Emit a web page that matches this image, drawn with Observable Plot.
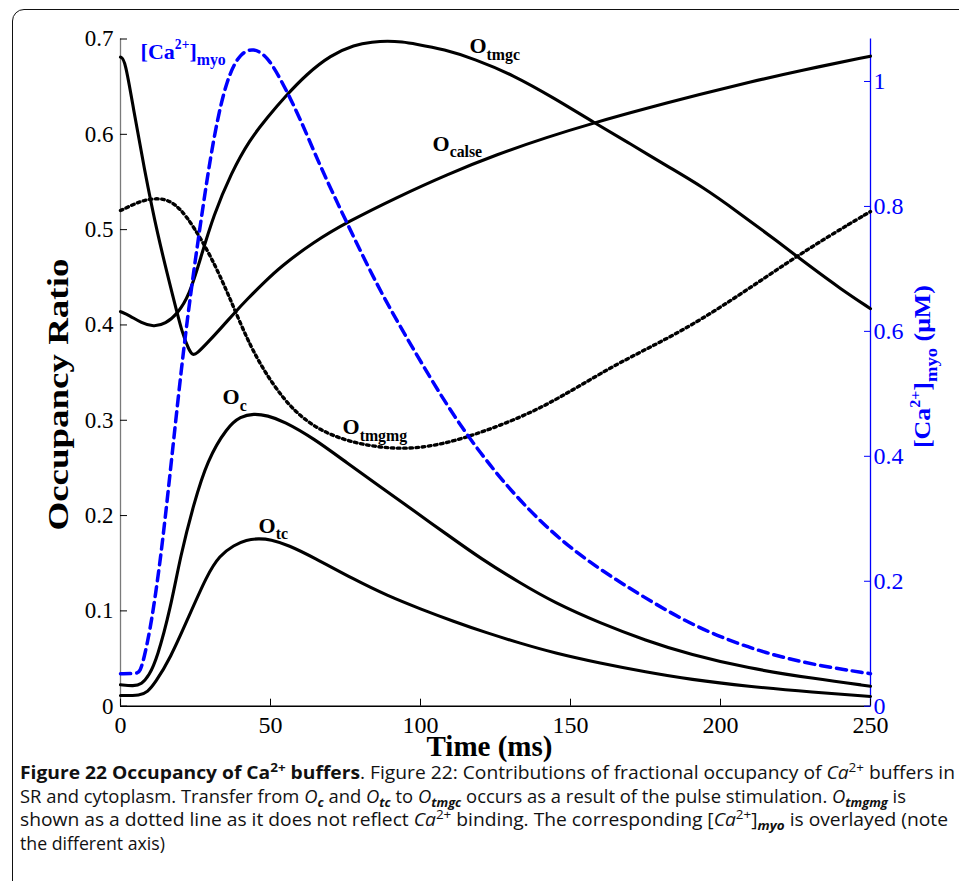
<!DOCTYPE html>
<html><head><meta charset="utf-8">
<script src="https://cdn.jsdelivr.net/npm/d3@7"></script>
<script src="https://cdn.jsdelivr.net/npm/@observablehq/plot@0.6"></script>
<style>
body{margin:0;background:#fff;}
#wrap{position:relative;width:959px;height:881px;overflow:hidden;background:#fff;}
#frame{position:absolute;left:12px;top:9px;width:1000px;height:1000px;border:1.2px solid #111;border-radius:12px;box-sizing:border-box;}
#chart{position:absolute;left:0;top:0;}
#caption{position:absolute;left:0;top:760px;}
</style></head>
<body><div id="wrap"><div id="frame"></div><div id="chart"></div><svg id="caption" width="959" height="121"></svg></div>
<script>
// ---- data ----
const xTicks = [0, 50, 100, 150, 200, 250];
const yTicks = [0, 0.1, 0.2, 0.3, 0.4, 0.5, 0.6, 0.7];
const yTickLabels = ["0", "0.1", "0.2", "0.3", "0.4", "0.5", "0.6", "0.7"];
const caTicks = [0, 0.2, 0.4, 0.6, 0.8, 1];
const caTickLabels = ["0", "0.2", "0.4", "0.6", "0.8", "1"];
const caAxisMax = 1.068;   // right axis value at the top of the frame
const occAxisMax = 0.7;

const tmgcT = [0, 3, 7, 11, 15, 19, 22.8, 26.7, 31, 37, 43, 49, 55, 62, 70, 78, 84, 89, 94, 98, 108, 118, 131, 144.5, 158, 170, 182, 194, 206, 218, 230, 240, 250];
const tmgcV = [0.414, 0.410, 0.402, 0.398, 0.401, 0.412, 0.430, 0.470, 0.515, 0.560, 0.594, 0.618, 0.640, 0.663, 0.683, 0.694, 0.697, 0.698, 0.697, 0.695, 0.689, 0.679, 0.662, 0.638, 0.612, 0.590, 0.567, 0.545, 0.518, 0.490, 0.461, 0.438, 0.417];

const calseT = [0, 1.5, 4.4, 7.8, 12.2, 17.8, 20.6, 22.8, 24, 25.5, 28.9, 33.3, 37.8, 42.2, 48, 53.3, 64.4, 75.6, 92.2, 108.9, 125.6, 142.2, 157.8, 175, 193.3, 210, 226.7, 250];
const calseV = [0.681, 0.679, 0.625, 0.566, 0.496, 0.426, 0.391, 0.374, 0.368, 0.370, 0.381, 0.396, 0.412, 0.427, 0.445, 0.461, 0.487, 0.508, 0.534, 0.558, 0.579, 0.597, 0.612, 0.627, 0.642, 0.655, 0.667, 0.682];

const tmgmgT = [0, 4, 7.8, 12.2, 16, 20, 24.4, 30, 36, 43.3, 51, 58, 66, 75.6, 86.7, 97.8, 108.9, 120, 131, 142, 153, 166, 180, 193.3, 208, 223, 236, 250];
const tmgmgV = [0.520, 0.526, 0.531, 0.533, 0.531, 0.522, 0.503, 0.473, 0.432, 0.376, 0.336, 0.309, 0.290, 0.278, 0.271, 0.270, 0.276, 0.287, 0.300, 0.316, 0.336, 0.360, 0.382, 0.405, 0.435, 0.467, 0.493, 0.519];

const ocT = [0, 4.4, 7, 9.5, 12.2, 16.7, 20, 24.4, 28.9, 35.6, 40, 44.4, 49, 54.4, 64.4, 75.6, 86.7, 97.8, 108.9, 120, 133.3, 144.4, 160, 175, 190, 208.9, 231, 250];
const ocV = [0.0225, 0.021, 0.023, 0.032, 0.050, 0.103, 0.158, 0.212, 0.258, 0.293, 0.304, 0.307, 0.305, 0.299, 0.281, 0.255, 0.230, 0.205, 0.180, 0.155, 0.129, 0.109, 0.087, 0.069, 0.054, 0.040, 0.029, 0.021];

const otcT = [0, 6.7, 9, 11.5, 16.7, 22.2, 28.9, 33, 37.8, 42, 46, 50, 56, 64.4, 77.8, 88.9, 100, 111, 122, 133.3, 144.4, 160, 175, 190, 209, 231, 250];
const otcV = [0.0112, 0.0112, 0.015, 0.024, 0.051, 0.090, 0.138, 0.158, 0.169, 0.1745, 0.176, 0.175, 0.169, 0.156, 0.133, 0.116, 0.102, 0.089, 0.077, 0.066, 0.056, 0.045, 0.036, 0.028, 0.0207, 0.0147, 0.0102];

const caT = [0, 5.6, 6.5, 7.8, 10, 11.7, 13.3, 15.6, 18.9, 22.2, 26.7, 31.1, 35.6, 40, 44.4, 48.9, 53.3, 60, 66, 75.6, 86.7, 97.8, 108.9, 120, 131, 142, 153, 164, 174, 186.7, 200, 215, 231, 250];
const caV = [0.052, 0.052, 0.056, 0.075, 0.126, 0.180, 0.235, 0.330, 0.480, 0.620, 0.775, 0.915, 1.008, 1.046, 1.054, 1.040, 1.005, 0.940, 0.870, 0.772, 0.662, 0.570, 0.480, 0.404, 0.340, 0.286, 0.242, 0.206, 0.176, 0.140, 0.110, 0.085, 0.066, 0.052];

const curveLabels = [
  {t: 116.3, v: 0.6928, text: "O_{tmgc}"},
  {t: 104, v: 0.590, text: "O_{calse}"},
  {t: 74, v: 0.293, text: "O_{tmgmg}"},
  {t: 34, v: 0.3245, text: "O_{c}"},
  {t: 46, v: 0.1896, text: "O_{tc}"}
];
const caLabel = [{t: 6.7, v: 0.6868, text: "[Ca^{2+}]_{myo}"}];

const xTitle = "Time (ms)";
const yTitle = "Occupancy Ratio";
const y2Title = "[Ca^{2+}]_{myo} (μM)";

const captionLines = [
  [["Figure 22 Occupancy of Ca", "b"], ["2+", "b sup"], [" buffers", "b"], [". Figure 22: Contributions of fractional occupancy of ", ""], ["Ca", "i"], ["2+", "sup"], [" buffers in", ""]],
  [["SR and cytoplasm. Transfer from ", ""], ["O", "i"], ["c", "i sub"], [" and ", ""], ["O", "i"], ["tc", "i sub"], [" to ", ""], ["O", "i"], ["tmgc", "i sub"], [" occurs as a result of the pulse stimulation. ", ""], ["O", "i"], ["tmgmg", "i sub"], [" is", ""]],
  [["shown as a dotted line as it does not reflect ", ""], ["Ca", "i"], ["2+", "sup"], [" binding. The corresponding [", ""], ["Ca", "i"], ["2+", "sup"], ["]", ""], ["myo", "i sub"], [" is overlayed (note", ""]],
  [["the different axis)", ""]]
];

// ---- build ----
const K = occAxisMax / caAxisMax;
const rows = (t, v) => t.map((d, i) => ({t: d, v: v[i]}));
const serif = "'Liberation Serif', 'Times New Roman', Times, serif";
const lineOpts = {x: "t", y: "v", stroke: "#000", strokeWidth: 3.1, curve: "basis"};

const chart = Plot.plot({
  width: 959, height: 780,
  marginLeft: 120, marginRight: 89, marginTop: 38.5, marginBottom: 74.3,
  x: {domain: [0, 250]},
  y: {domain: [0, occAxisMax]},
  style: {fontFamily: serif, background: "transparent", color: "#000", overflow: "visible"},
  marks: [
    Plot.ruleX([0], {stroke: "#7a7a7a", strokeWidth: 1.3}),
    Plot.ruleX([250], {stroke: "#0000ff", strokeWidth: 1.3}),
    Plot.ruleY([0], {stroke: "#000", strokeWidth: 1.5}),
    Plot.axisX(xTicks, {tickSize: -7, tickPadding: 17, fontSize: 24, tickFormat: d => String(d), label: null}),
    Plot.axisY(yTicks, {anchor: "left", tickSize: -7, tickPadding: 14, fontSize: 23,
      tickFormat: d => yTickLabels[yTicks.findIndex(v => Math.abs(v - d) < 1e-9)], label: null}),
    Plot.axisY(caTicks.map(c => c * K), {anchor: "right", tickSize: -7, tickPadding: 10, fontSize: 24, color: "#0000ff",
      tickFormat: d => caTickLabels[caTicks.findIndex(c => Math.abs(c * K - d) < 1e-9)], label: null}),
    Plot.line(rows(tmgmgT, tmgmgV), {...lineOpts, strokeWidth: 3.4, strokeDasharray: "2.6,3.6"}),
    Plot.line(rows(tmgcT, tmgcV), lineOpts),
    Plot.line(rows(calseT, calseV), lineOpts),
    Plot.line(rows(ocT, ocV), lineOpts),
    Plot.line(rows(otcT, otcV), lineOpts),
    Plot.line(rows(caT, caV), {x: "t", y: d => d.v * K, stroke: "#0000ff", strokeWidth: 3.5, strokeDasharray: "10,6", curve: "basis"}),
    Plot.text(curveLabels, {x: "t", y: "v", text: "text", textAnchor: "start", lineAnchor: "middle", fontSize: 22, fontWeight: "bold", fill: "#000"}),
    Plot.text(caLabel, {x: "t", y: "v", text: "text", textAnchor: "start", lineAnchor: "middle", fontSize: 22, fontWeight: "bold", fill: "#0000ff"}),
    Plot.text([xTitle], {frameAnchor: "bottom", dx: -6, dy: 41, textAnchor: "middle", lineAnchor: "middle", fontSize: 29, fontWeight: "bold", fill: "#000"}),
    Plot.text([yTitle], {frameAnchor: "left", dx: -62, dy: 22, rotate: -90, textAnchor: "middle", lineAnchor: "middle", fontSize: 30, fontWeight: "bold", fill: "#000"}),
    Plot.text([y2Title], {frameAnchor: "right", dx: 52, dy: -6, rotate: -90, textAnchor: "middle", lineAnchor: "middle", fontSize: 24, fontWeight: "bold", fill: "#0000ff"})
  ]
});
document.getElementById("chart").appendChild(chart);

// rich text (sub/superscripts) for labels drawn by Plot
function richify(svg) {
  svg.querySelectorAll("text").forEach(el => {
    const s = el.textContent;
    if (!/[_^]\{/.test(s)) return;
    const fs = parseFloat(getComputedStyle(el).fontSize) || 22;
    while (el.firstChild) el.removeChild(el.firstChild);
    const re = /([_^])\{([^}]*)\}/g;
    let last = 0, m, shift = 0;
    const add = (txt, kind) => {
      const ts = document.createElementNS("http://www.w3.org/2000/svg", "tspan");
      let target = 0;
      if (kind === "_") { target = 0.3 * fs; ts.setAttribute("font-size", 0.72 * fs); }
      else if (kind === "^") { target = -0.42 * fs; ts.setAttribute("font-size", 0.62 * fs); }
      ts.setAttribute("dy", target - shift);
      shift = target;
      ts.textContent = txt;
      el.appendChild(ts);
    };
    while ((m = re.exec(s))) {
      if (m.index > last) add(s.slice(last, m.index), "");
      add(m[2], m[1]);
      last = re.lastIndex;
    }
    if (last < s.length) add(s.slice(last), "");
  });
}
// axis titles in the reference are set in a wider face: stretch along the text
const titleLengths = new Map([[yTitle, 272], [y2Title, 163]]);
chart.querySelectorAll("text").forEach(el => {
  const L = titleLengths.get(el.textContent);
  if (L) { el.setAttribute("textLength", L); el.setAttribute("lengthAdjust", "spacingAndGlyphs"); }
});
richify(chart);

// caption
const capBaselines = [19, 43, 66, 90];
const capWidths = [935, 886, 928, 145];
const cap = d3.select("#caption");
captionLines.forEach((line, i) => {
  const fs = 17.5;
  const t = cap.append("text").attr("x", 20).attr("y", capBaselines[i])
    .attr("font-family", "'Open Sans', 'Noto Sans', sans-serif").attr("font-size", fs).attr("fill", "#111")
    .attr("textLength", capWidths[i]).attr("lengthAdjust", "spacingAndGlyphs");
  let shift = 0;
  line.forEach(([txt, st]) => {
    const ts = t.append("tspan").text(txt);
    if (st.includes("b")) ts.attr("font-weight", "bold");
    if (st.includes("i")) ts.attr("font-style", "italic");
    let target = 0;
    if (st.includes("sup")) { target = -0.4 * fs; ts.attr("font-size", 0.7 * fs); }
    if (st.includes("sub")) { target = 0.25 * fs; ts.attr("font-size", 0.7 * fs); }
    ts.attr("dy", target - shift);
    shift = target;
  });
});
</script>
</body></html>
